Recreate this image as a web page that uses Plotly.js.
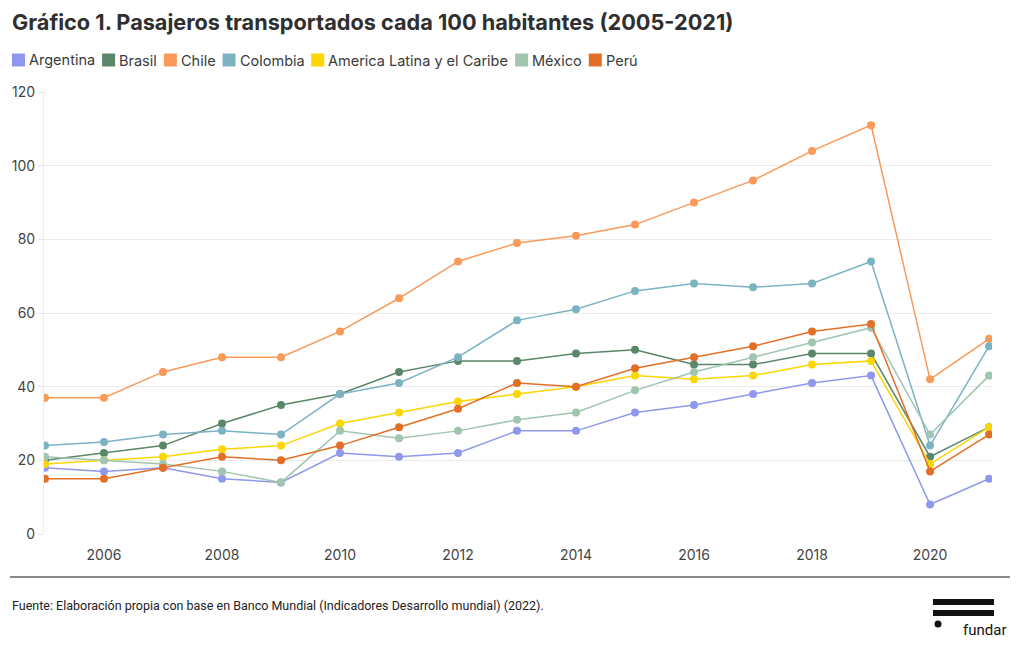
<!DOCTYPE html>
<html>
<head>
<meta charset="utf-8">
<script src="https://cdn.plot.ly/plotly-3.0.1.min.js"></script>
<style>html,body{margin:0;padding:0;background:#fff;}#chart{width:1020px;height:650px;}</style>
</head>
<body>
<div id="chart"></div>
<script>
const years = [2005,2006,2007,2008,2009,2010,2011,2012,2013,2014,2015,2016,2017,2018,2019,2020,2021];
const argentina = [18,17,18,15,14,22,21,22,28,28,33,35,38,41,43,8,15];
const brasil    = [20,22,24,30,35,38,44,47,47,49,50,46,46,49,49,21,29];
const chile     = [37,37,44,48,48,55,64,74,79,81,84,90,96,104,111,42,53];
const colombia  = [24,25,27,28,27,38,41,48,58,61,66,68,67,68,74,24,51];
const alc       = [19,20,21,23,24,30,33,36,38,40,43,42,43,46,47,19,29];
const mexico    = [21,20,19,17,14,28,26,28,31,33,39,44,48,52,56,27,43];
const peru      = [15,15,18,21,20,24,29,34,41,40,45,48,51,55,57,17,27];

const seriesNames = ["Argentina","Brasil","Chile","Colombia","America Latina y el Caribe","México","Perú"];
const seriesValues = [argentina, brasil, chile, colombia, alc, mexico, peru];
const seriesColors = ["#8f98ec","#5a8769","#f99a59","#7cb3c3","#fad602","#a0c5b0","#e36f27"];
const xTicks = [2006,2008,2010,2012,2014,2016,2018,2020];
const yTicks = [0,20,40,60,80,100,120];

const titleText = "Gráfico 1. Pasajeros transportados cada 100 habitantes (2005-2021)";
const sourceText = "Fuente: Elaboración propia con base en Banco Mundial (Indicadores Desarrollo mundial) (2022).";
const logoText = "fundar";

const W = 1020, H = 650;
const M = {l:44, r:28, t:92, b:116};
const PW = W - M.l - M.r, PH = H - M.t - M.b;
const fx = px => (px - M.l) / PW;
const fy = py => (H - M.b - py) / PH;

const FONT = "Inter, 'Libre Franklin', Roboto, sans-serif";
const LEG_SIZE = 14.5;

const traces = seriesNames.map((n,i) => ({
  type:'scatter', mode:'lines+markers', name:n, x:years, y:seriesValues[i],
  line:{color:seriesColors[i], width:1.5},
  marker:{color:seriesColors[i], size:8},
  showlegend:false, hoverinfo:'x+y+name'
}));

// custom legend (squares + text)
const canvas = document.createElement('canvas');
const ctx = canvas.getContext('2d');
ctx.font = LEG_SIZE + "px Inter";
const shapes = [], annotations = [];
let cx = 12;
const legY = 60;
seriesNames.forEach((n,i) => {
  shapes.push({type:'rect', xref:'paper', yref:'paper', x0:fx(cx), x1:fx(cx+13), y0:fy(legY+6.5), y1:fy(legY-6.5),
    fillcolor:seriesColors[i], line:{width:0}});
  annotations.push({xref:'paper', yref:'paper', x:fx(cx+15), y:fy(legY), xanchor:'left', yanchor:'middle',
    text:n, showarrow:false, font:{family:FONT, size:LEG_SIZE, color:'#3a3a3a'}});
  const tw = ctx.measureText(n).width;
  cx += 15 + tw + 9;
});

// separator line
shapes.push({type:'line', xref:'paper', yref:'paper', x0:fx(10), x1:fx(1010), y0:fy(577), y1:fy(577), line:{color:'#111', width:1}});
// source
annotations.push({xref:'paper', yref:'paper', x:fx(10), y:fy(605), xanchor:'left', yanchor:'middle', showarrow:false,
  text:sourceText, font:{family:"Roboto, sans-serif", size:12.5, color:'#222'}});
// logo
shapes.push({type:'rect', xref:'paper', yref:'paper', x0:fx(933), x1:fx(994), y0:fy(605), y1:fy(599), fillcolor:'#111', line:{width:0}});
shapes.push({type:'rect', xref:'paper', yref:'paper', x0:fx(933), x1:fx(994), y0:fy(616), y1:fy(610), fillcolor:'#111', line:{width:0}});
shapes.push({type:'circle', xref:'paper', yref:'paper', x0:fx(934.5), x1:fx(941.5), y0:fy(627.5), y1:fy(620.5), fillcolor:'#111', line:{width:0}});
annotations.push({xref:'paper', yref:'paper', x:fx(961), y:fy(630), xanchor:'left', yanchor:'middle', showarrow:false,
  text:logoText, font:{family:"Roboto, sans-serif", size:15, color:'#111'}});

const layout = {
  width:W, height:H, margin:M, paper_bgcolor:'#fff', plot_bgcolor:'#fff',
  showlegend:false,
  title:{text:'<b>'+titleText+'</b>', x:12/W, xanchor:'left', xref:'container', y:1-22/H, yanchor:'middle', yref:'container',
    font:{family:FONT, size:21.7, color:'#2f2f2f'}},
  font:{family:FONT, color:'#444'},
  xaxis:{range:[2004.983, 2021.05], tickvals:xTicks, ticktext:xTicks.map(String), showgrid:false, zeroline:false,
    showline:false, ticks:'outside', ticklen:8, tickcolor:'rgba(0,0,0,0)', tickfont:{size:14, color:'#444'}, fixedrange:true},
  yaxis:{range:[0,120], tickvals:yTicks, showgrid:true, gridcolor:'#ececec', gridwidth:1, zeroline:false,
    showline:true, linecolor:'#ececec', linewidth:1, ticks:'outside', ticklen:5, tickcolor:'#e6e6e6',
    tickfont:{size:14, color:'#444'}, fixedrange:true},
  shapes:shapes, annotations:annotations
};

Plotly.newPlot('chart', traces, layout, {displayModeBar:false, staticPlot:true});
</script>
</body>
</html>
